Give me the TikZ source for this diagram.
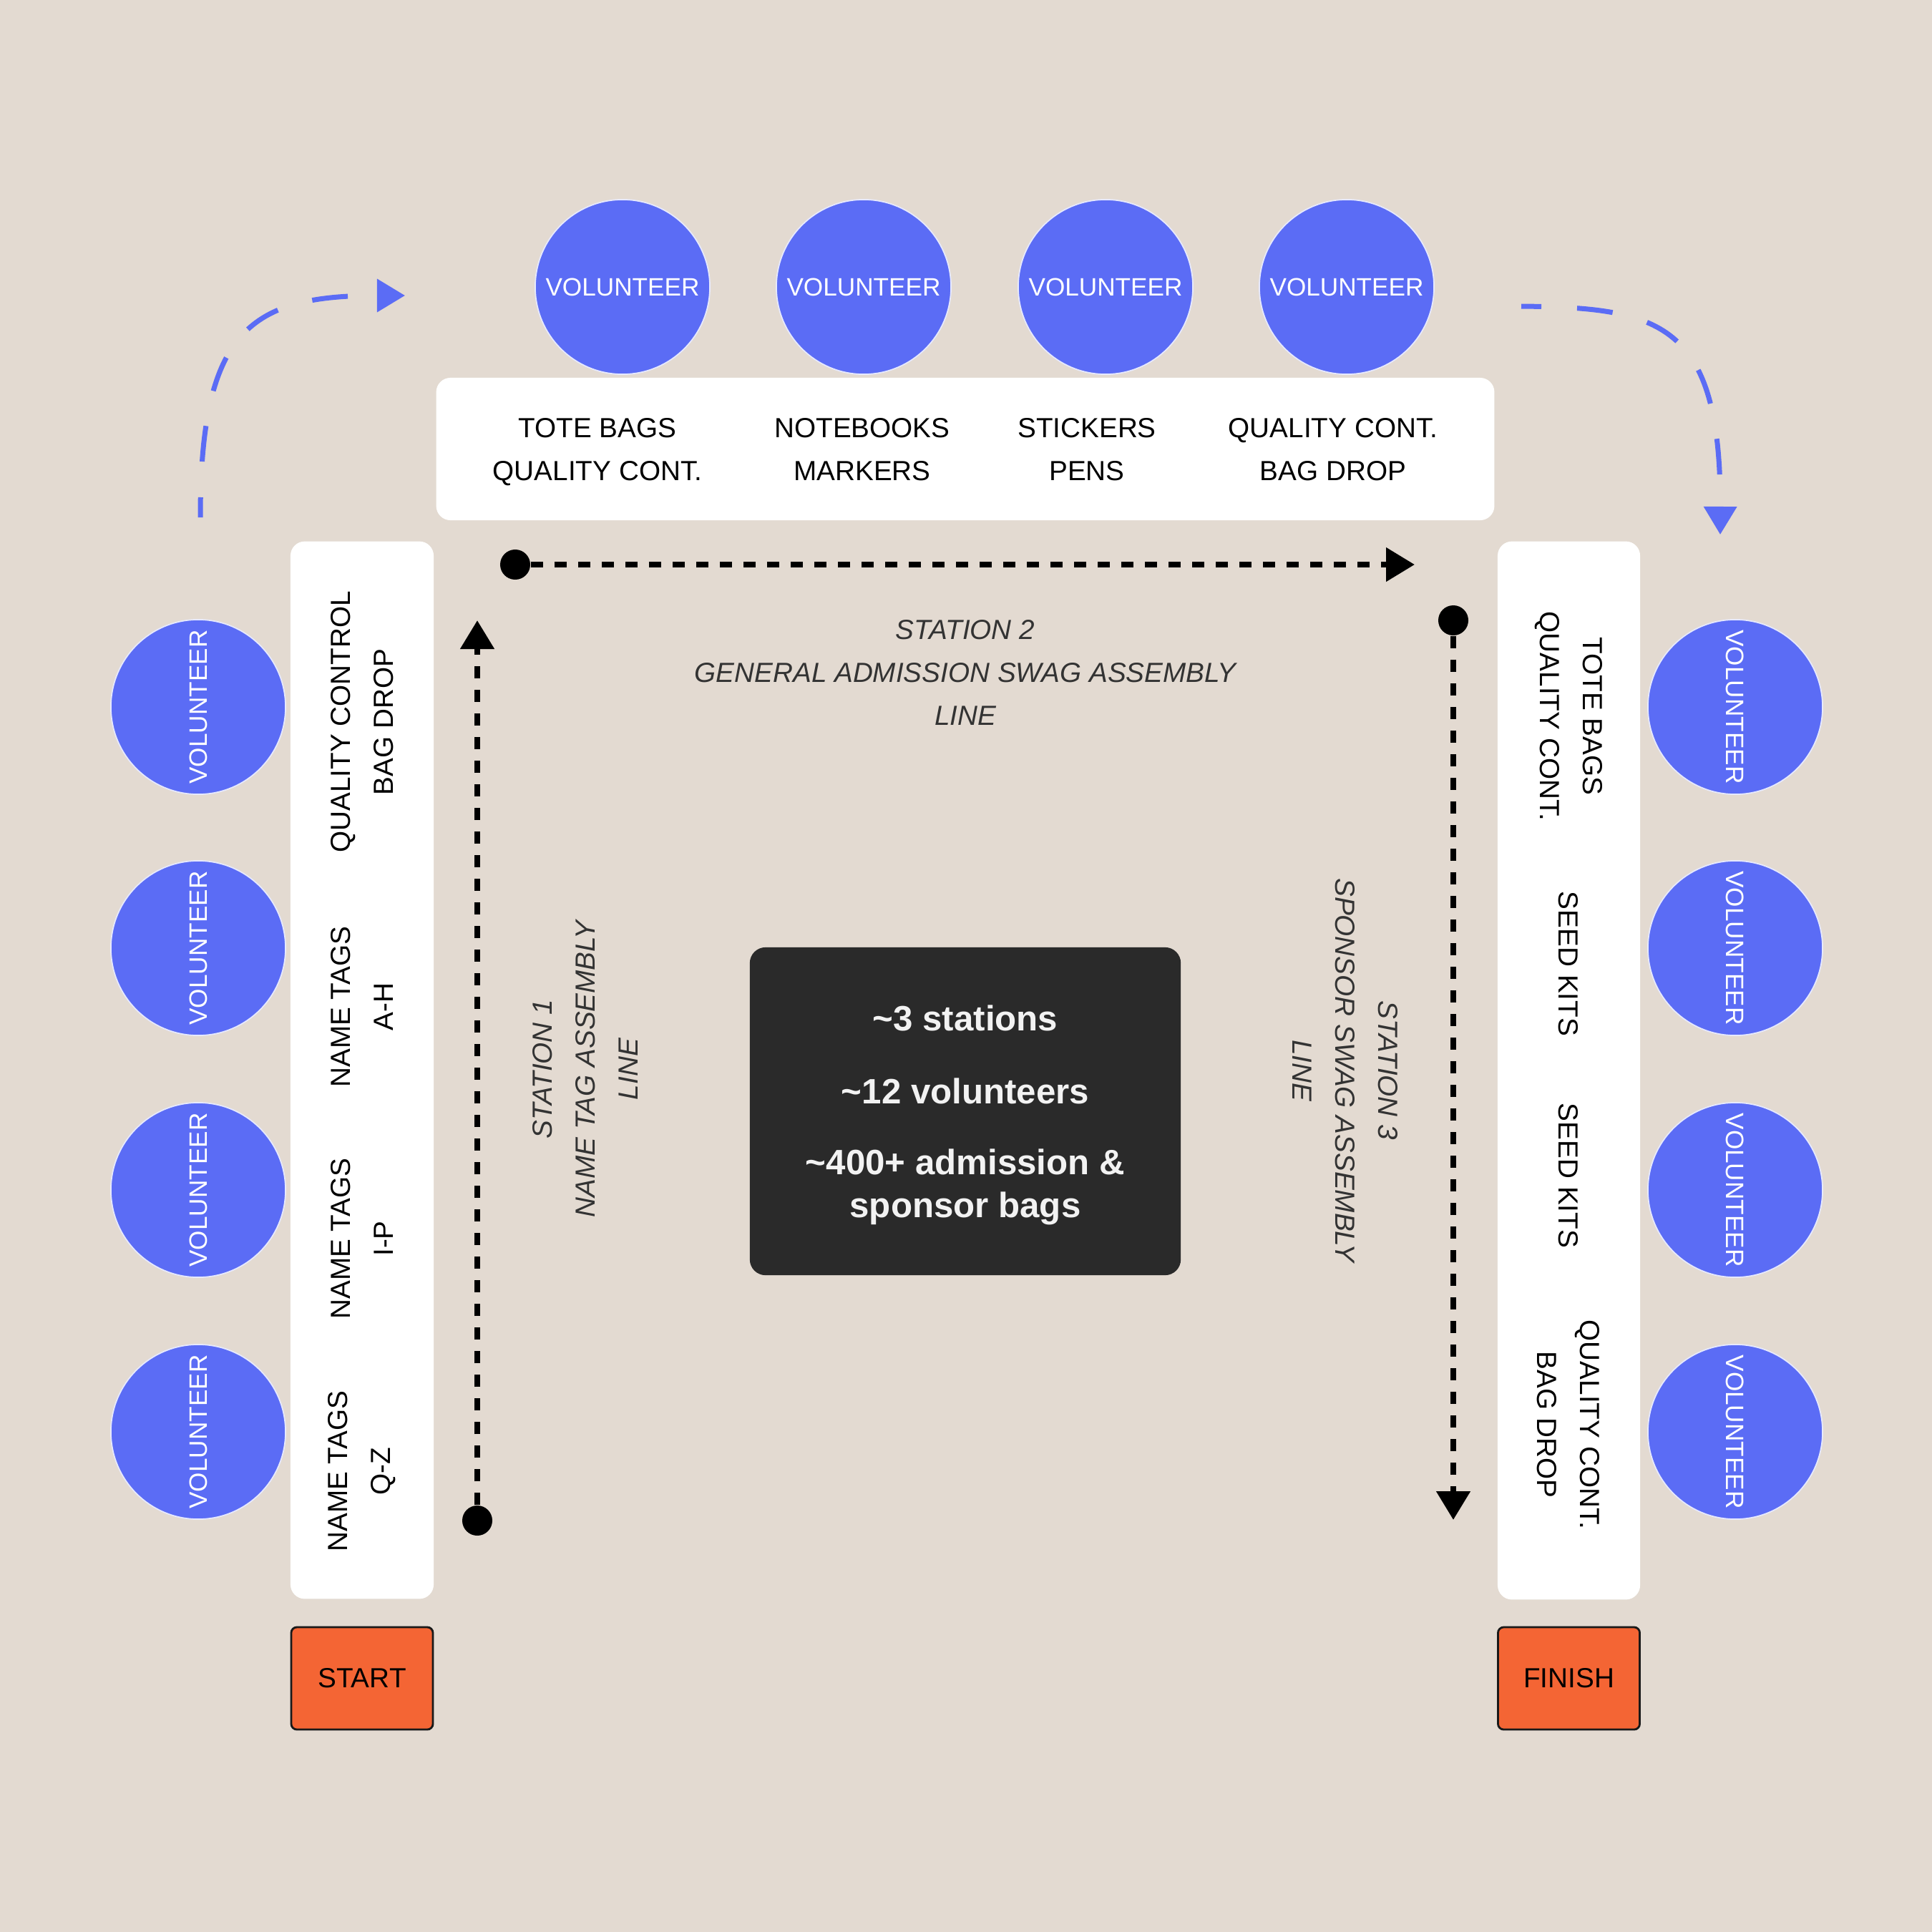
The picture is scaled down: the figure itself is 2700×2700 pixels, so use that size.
\documentclass[tikz,border=0pt]{standalone}
\usepackage{fontspec}
\setmainfont{Liberation Sans}
\usepackage{tikz}
\usetikzlibrary{arrows.meta}
\definecolor{bgcolor}{HTML}{E3DAD1}
\definecolor{volcolor}{HTML}{5B6CF5}
\definecolor{summarycolor}{HTML}{2A2A2A}
\definecolor{endcolor}{HTML}{F46534}
\definecolor{stationcolor}{HTML}{333333}

\tikzset{
  volunteer/.style={circle, fill=volcolor, draw=white!85!volcolor, line width=0.5pt,
    minimum size=2.44cm, inner sep=0pt, text=white, font=\fontsize{10}{12}\selectfont},
  tablebox/.style={fill=white, rounded corners=0.2cm, inner sep=0pt},
  task/.style={align=center, inner sep=0pt, font=\fontsize{11}{17}\selectfont},
  station/.style={align=center, inner sep=0pt, text=stationcolor, font=\fontsize{11}{17}\selectfont\itshape},
  endbox/.style={fill=endcolor, draw=black!90, line width=0.8pt, rounded corners=0.08cm,
    minimum width=1.98cm, minimum height=1.43cm, font=\fontsize{11}{13}\selectfont},
  stat/.style={align=center, inner sep=0pt, text=white!95!black, font=\fontsize{14}{17}\selectfont\bfseries},
  flowdot/.style={circle, fill=black, minimum size=0.42cm, inner sep=0pt},
  flow/.style={line width=0.08cm, dash pattern=on 0.17cm off 0.16cm, -{Triangle[length=0.4cm, width=0.46cm]}},
  rotation/.style={volcolor, line width=0.07cm, dash pattern=on 0.5cm off 0.5cm, dash phase=0.22cm,
    -{Triangle[length=0.39cm, width=0.45cm]}}
}

\begin{document}
\begin{tikzpicture}[x=0.01cm, y=-0.01cm]
  \fill[bgcolor] (0,0) rectangle (2700,2700);
  \useasboundingbox (0,0) rectangle (2700,2700);

  % tables
  \node[tablebox, minimum width=14.78cm, minimum height=1.99cm] (toptable) at (1349,627.5) {};
  \node[tablebox, minimum width=2cm, minimum height=14.77cm] (lefttable) at (506,1495.5) {};
  \node[tablebox, minimum width=1.99cm, minimum height=14.78cm] (righttable) at (2192.5,1496) {};
  \node[endbox] (start) at (506,2345.5) {START};
  \node[endbox] (finish) at (2192.5,2345.5) {FINISH};

  % volunteers
  \foreach \i/\x in {1/870, 2/1207, 3/1545, 4/1882}
    \node[volunteer] (vtop\i) at (\x,401) {VOLUNTEER};
  \foreach \i/\y in {1/988, 2/1325, 3/1663, 4/2001} {
    \node[volunteer, rotate=90] (vleft\i) at (277,\y) {VOLUNTEER};
    \node[volunteer, rotate=-90] (vright\i) at (2425,\y) {VOLUNTEER};
  }

  % tasks
  \foreach \i/\x/\y/\txt in {1/835/632/{TOTE BAGS\\QUALITY CONT.}, 2/1205/628/{NOTEBOOKS\\MARKERS},
      3/1519/628/{STICKERS\\PENS}, 4/1863/628/{QUALITY CONT.\\BAG DROP}}
    \node[task] (ttop\i) at (\x,\y) {\txt};
  \foreach \i/\y/\txt in {1/1009/{QUALITY CONTROL\\BAG DROP}, 2/1407/{NAME TAGS\\A-H},
      3/1731/{NAME TAGS\\I-P}, 4/2056/{NAME TAGS\\Q-Z}}
    \node[task, rotate=90] (tleft\i) at (506,\y) {\txt};
  \foreach \i/\y/\txt in {1/1001/{TOTE BAGS\\QUALITY CONT.}, 2/1347/{SEED KITS},
      3/1643/{SEED KITS}, 4/1991/{QUALITY CONT.\\BAG DROP}}
    \node[task, rotate=-90] (tright\i) at (2192,\y) {\txt};

  % stations
  \node[station, rotate=90] (station1) at (818,1494) {STATION 1\\NAME TAG ASSEMBLY\\LINE};
  \node[station] (station2) at (1349,940) {STATION 2\\GENERAL ADMISSION SWAG ASSEMBLY\\LINE};
  \node[station, rotate=-90] (station3) at (1880,1496) {STATION 3\\SPONSOR SWAG ASSEMBLY\\LINE};

  % summary
  \node[fill=summarycolor, rounded corners=0.22cm, minimum width=6.02cm, minimum height=4.58cm] (summary) at (1349,1553) {};
  \node[stat, anchor=base] (stations) at (1349,1440) {\textasciitilde 3 stations};
  \node[stat, anchor=base] (volunteers) at (1349,1542) {\textasciitilde 12 volunteers};
  \node[stat] (bags) at (1349,1659) {\textasciitilde 400+ admission \&\\sponsor bags};

  % flow of the line
  \node[flowdot] (dot1) at (667,2125) {};
  \coordinate (tip1) at (667,867);
  \draw[flow] (dot1) -- (tip1);
  \node[flowdot] (dot2) at (720,789) {};
  \coordinate (tip2) at (1977,789);
  \draw[flow] (dot2) -- (tip2);
  \node[flowdot] (dot3) at (2031,867) {};
  \coordinate (tip3) at (2031,2124);
  \draw[flow] (dot3) -- (tip3);

  % volunteer rotation
  \coordinate (rotL) at (280,723);
  \coordinate (rotLend) at (566,413);
  \draw[rotation] (rotL) .. controls (280,460) and (350,413) .. (rotLend);
  \coordinate (rotR) at (2126,428);
  \coordinate (rotRend) at (2404,747);
  \draw[rotation] (rotR) .. controls (2320,430) and (2405,450) .. (rotRend);
\end{tikzpicture}
\end{document}
